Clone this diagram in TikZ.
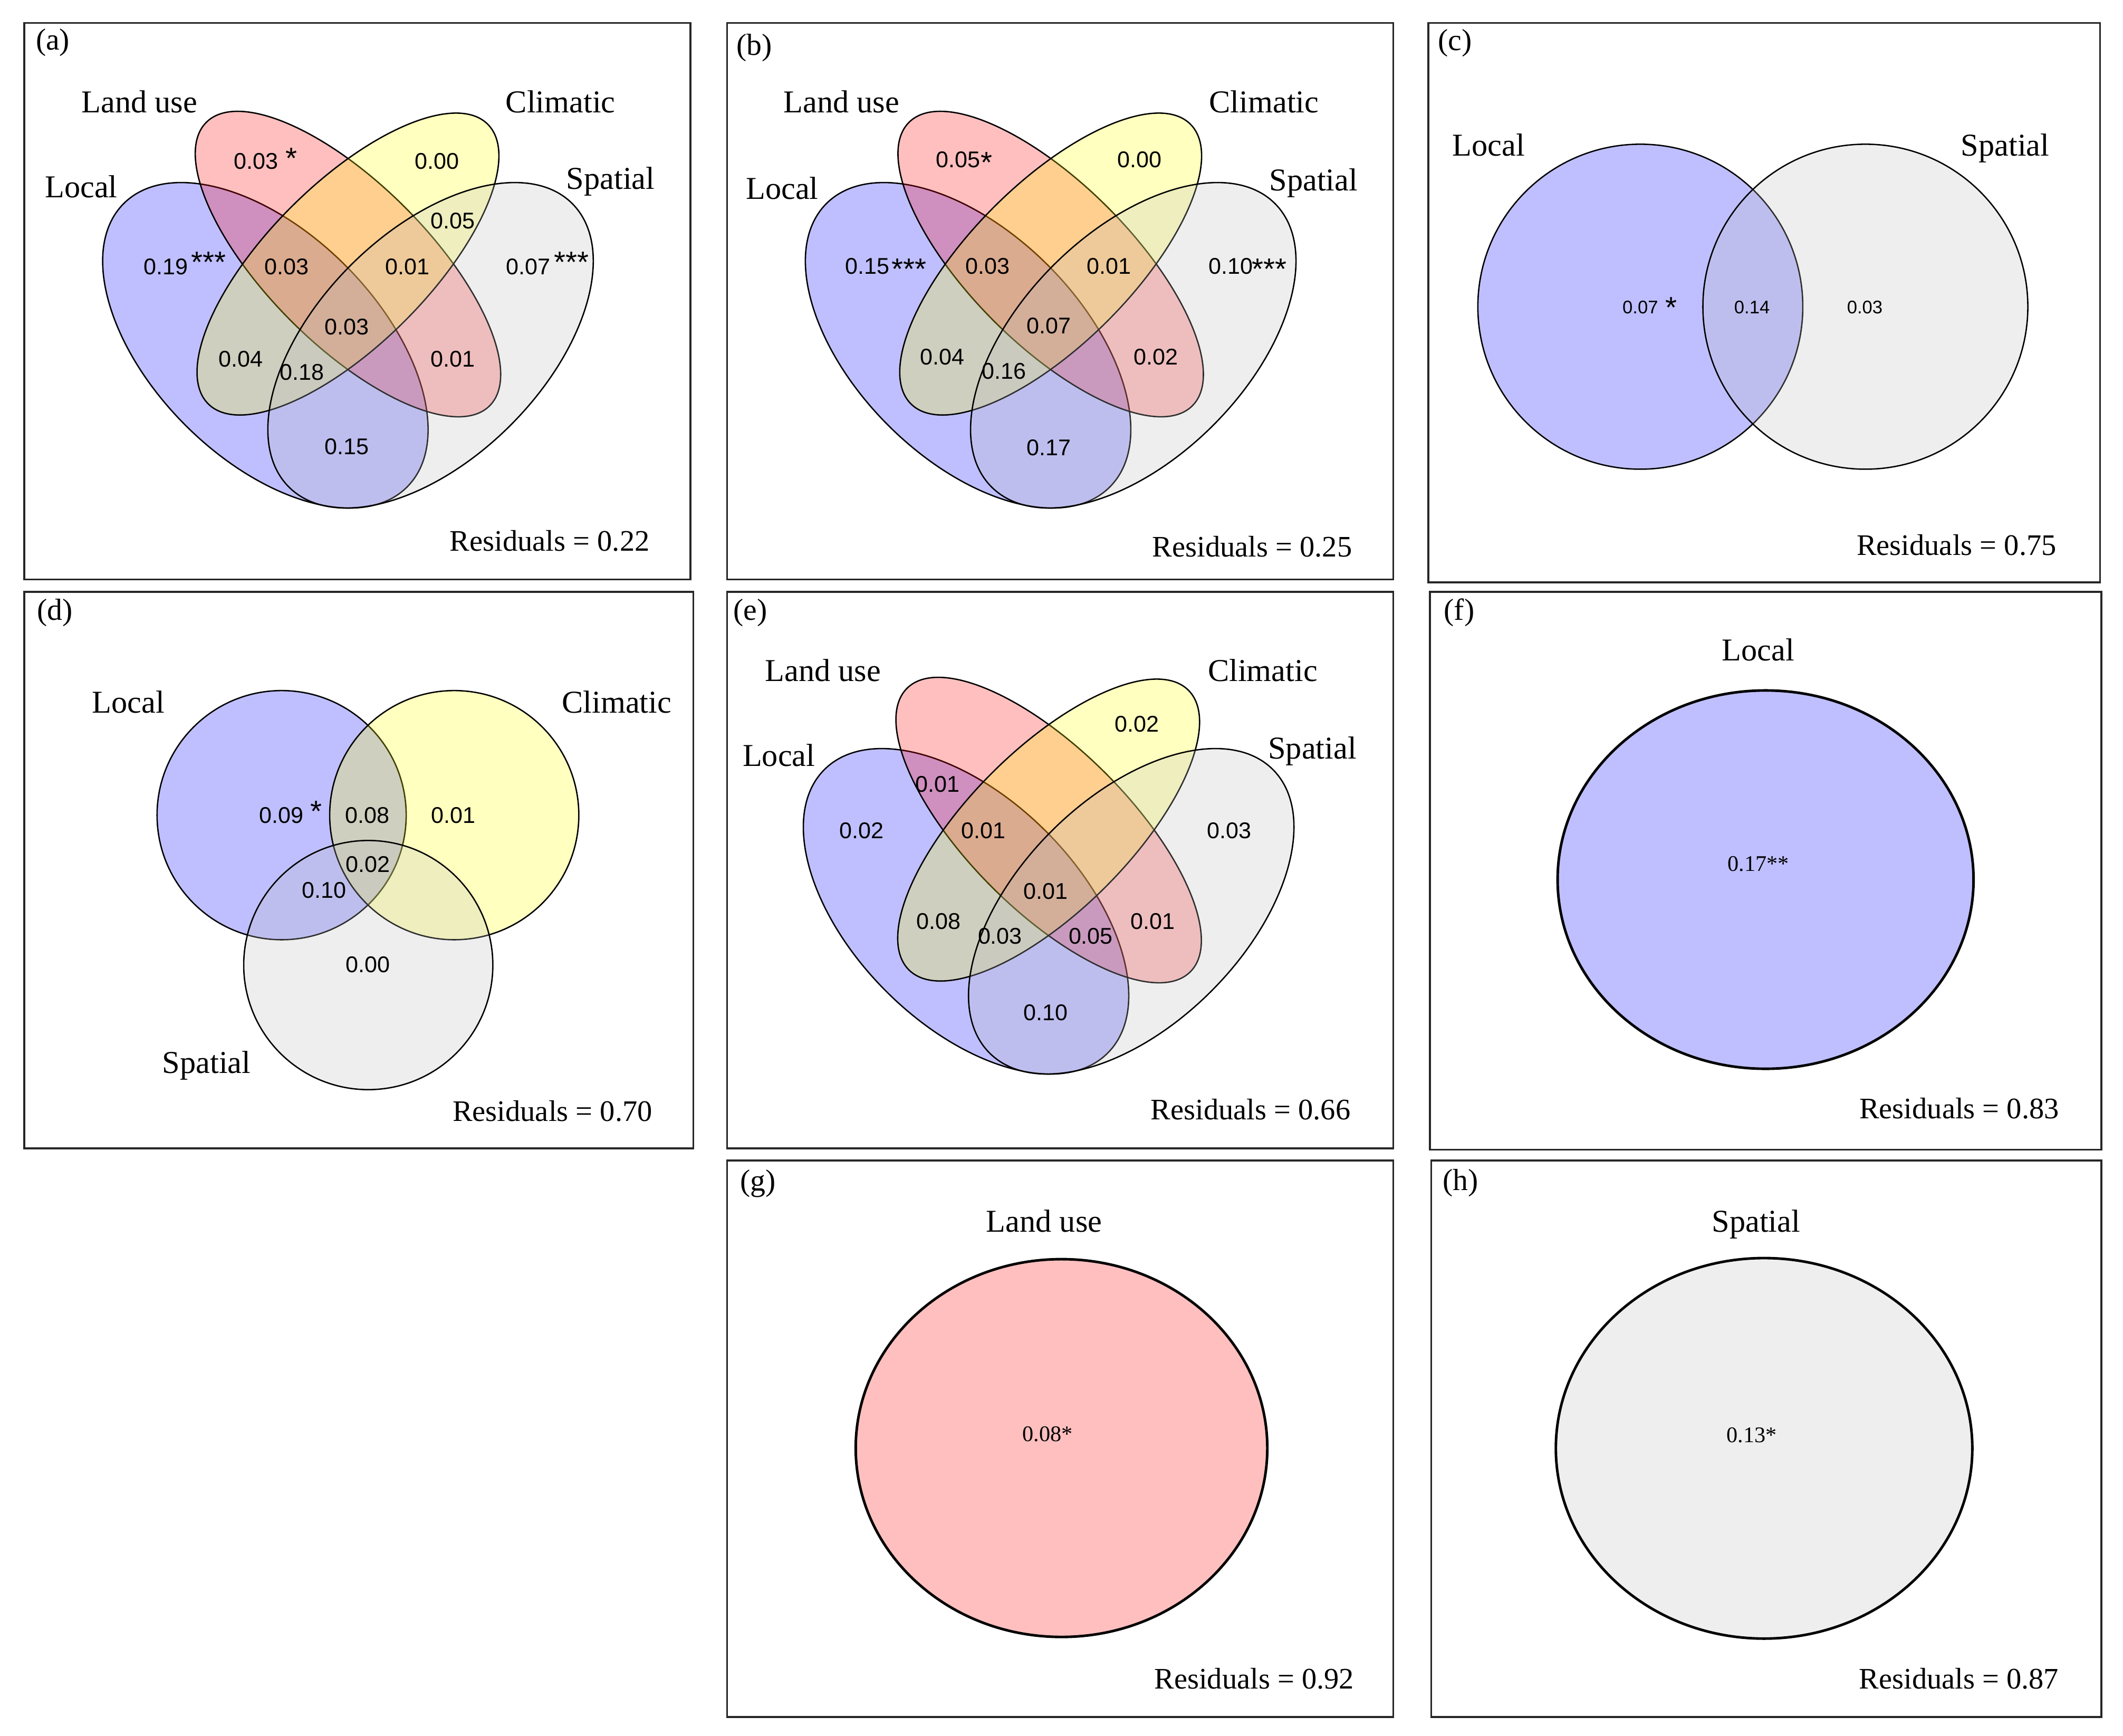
\documentclass[tikz,border=0pt]{standalone}
\usepackage{fontspec}
\setmainfont{Liberation Serif}
\newfontfamily\arialfont{Liberation Sans}
\definecolor{vblue}{RGB}{0,0,255}
\definecolor{vred}{RGB}{255,0,0}
\definecolor{vyellow}{RGB}{255,255,0}
\definecolor{vgrey}{RGB}{190,190,190}
\tikzset{
  panel/.style={draw=black!85, line width=1.4pt},
  lab/.style={font=\fontsize{23.5}{28}\selectfont, anchor=base, inner sep=0pt},
  reslab/.style={font=\fontsize{22}{26}\selectfont, anchor=base, inner sep=0pt},
  tag/.style={font=\fontsize{22.5}{27}\selectfont, inner sep=0pt},
  num/.style={font=\arialfont\fontsize{16.8}{20}\selectfont, inner sep=0pt},
  snum/.style={font=\arialfont\fontsize{13.5}{16}\selectfont, inner sep=0pt},
  stars/.style={font=\arialfont\fontsize{22}{26}\selectfont, inner sep=0pt, anchor=north},
  serifnum/.style={font=\fontsize{16.5}{19}\selectfont, inner sep=0pt},
  vset/.style={fill opacity=0.25, draw=black, line width=1pt},
  setL/.style={vset, fill=vblue},
  setU/.style={vset, fill=vred},
  setC/.style={vset, fill=vyellow},
  setS/.style={vset, fill=vgrey},
  thick set/.style={line width=1.9pt}
}
\newcommand\quadvenn[2]{%
\begin{scope}[shift={(#1,#2)}]
\begin{scope}[shift={(178,238)},rotate=135]\path[setL] (0,0) ellipse [x radius=148,y radius=83.5];\end{scope}
\begin{scope}[shift={(239,178)},rotate=135]\path[setU] (0,0) ellipse [x radius=148,y radius=59.4];\end{scope}
\begin{scope}[shift={(239,178)},rotate=45]\path[setC] (0,0) ellipse [x radius=146,y radius=59.4];\end{scope}
\begin{scope}[shift={(300,238)},rotate=45]\path[setS] (0,0) ellipse [x radius=148,y radius=83.5];\end{scope}
\end{scope}}
\begin{document}
\begin{tikzpicture}[x=1pt,y=-1pt]
\fill[white] (0,0) rectangle (1568,1282);
\useasboundingbox (0,0) rectangle (1568,1282);

% ---------------- panel boxes
\draw[panel] (18,17) rectangle (510,428);
\draw[panel] (537,17) rectangle (1029,428);
\draw[panel] (1055,17) rectangle (1551,430);
\draw[panel] (18,437) rectangle (512,848);
\draw[panel] (537,437) rectangle (1029,848);
\draw[panel] (1056,437) rectangle (1552,849);
\draw[panel] (537,857) rectangle (1029,1268);
\draw[panel] (1057,857) rectangle (1552,1268);

% ---------------- (a)
\quadvenn{18}{17}
\node[tag] (a-tag) at (39,31.5) {(a)};
\node[lab] (a-lu) at (103,83) {Land use};
\node[lab] (a-cl) at (414,83) {Climatic};
\node[lab] (a-lo) at (60,146) {Local};
\node[lab] (a-sp) at (451,139.5) {Spatial};
\node[reslab] (a-res) at (406,407) {Residuals = 0.22};
\node[num] (a-n1) at (189,119) {0.03};
\node[stars] (a-s1) at (215.1,109.1) {*};
\node[num] (a-n2) at (322.7,119) {0.00};
\node[num] (a-n3) at (334.4,163) {0.05};
\node[num] (a-n4) at (122.4,197) {0.19};
\node[stars] (a-s4) at (154.2,185.7) {***};
\node[num] (a-n5) at (211.7,197) {0.03};
\node[num] (a-n6) at (301,197) {0.01};
\node[num] (a-n7) at (390,197) {0.07};
\node[stars] (a-s7) at (422,185.7) {***};
\node[num] (a-n8) at (256,241.5) {0.03};
\node[num] (a-n9) at (178,265) {0.04};
\node[num] (a-n10) at (223,274.7) {0.18};
\node[num] (a-n11) at (334.4,265) {0.01};
\node[num] (a-n12) at (256,330) {0.15};

% ---------------- (b)
\quadvenn{537}{17}
\node[tag] (b-tag) at (557,35.2) {(b)};
\node[lab] (b-lu) at (621.5,83) {Land use};
\node[lab] (b-cl) at (933.6,83) {Climatic};
\node[lab] (b-lo) at (577.7,147) {Local};
\node[lab] (b-sp) at (970.2,140.7) {Spatial};
\node[reslab] (b-res) at (924.8,411) {Residuals = 0.25};
\node[num] (b-n1) at (707.7,117.8) {0.05};
\node[stars] (b-s1) at (728.5,112.3) {*};
\node[num] (b-n2) at (841.5,117.8) {0.00};
\node[num] (b-n3) at (640.5,196.4) {0.15};
\node[stars] (b-s3) at (671.4,190.9) {***};
\node[num] (b-n4) at (729.6,196.4) {0.03};
\node[num] (b-n5) at (819.2,196.4) {0.01};
\node[num] (b-n6) at (909,196.4) {0.10};
\node[stars] (b-s6) at (937.5,190.9) {***};
\node[num] (b-n7) at (774.7,240.8) {0.07};
\node[num] (b-n8) at (695.9,263.5) {0.04};
\node[num] (b-n9) at (741.4,274.2) {0.16};
\node[num] (b-n10) at (853.6,263.5) {0.02};
\node[num] (b-n11) at (774.7,330.5) {0.17};

% ---------------- (c)
\path[setL] (1211.5,226.5) circle [radius=120];
\path[setS] (1377.7,226.5) circle [radius=120];
\node[tag] (c-tag) at (1074.7,31.8) {(c)};
\node[lab] (c-lo) at (1099.4,115.3) {Local};
\node[lab] (c-sp) at (1481,115.3) {Spatial};
\node[reslab] (c-res) at (1445,410) {Residuals = 0.75};
\node[snum] (c-n1) at (1211.5,227.1) {0.07};
\node[stars] (c-s1) at (1234.3,219.4) {*};
\node[snum] (c-n2) at (1294,227.1) {0.14};
\node[snum] (c-n3) at (1377.3,227.1) {0.03};

% ---------------- (d)
\path[setL] (208,602) circle [radius=92];
\path[setC] (335.5,602) circle [radius=92];
\path[setS] (272,712.7) circle [radius=92];
\node[tag] (d-tag) at (40.6,452.5) {(d)};
\node[lab] (d-lo) at (94.8,526.5) {Local};
\node[lab] (d-cl) at (455.5,526.5) {Climatic};
\node[lab] (d-sp) at (152.6,792.5) {Spatial};
\node[reslab] (d-res) at (408,828) {Residuals = 0.70};
\node[num] (d-n1) at (207.8,602) {0.09};
\node[stars] (d-s1) at (233.7,591.5) {*};
\node[num] (d-n2) at (271.4,602) {0.08};
\node[num] (d-n3) at (334.8,602) {0.01};
\node[num] (d-n4) at (271.6,638.5) {0.02};
\node[num] (d-n5) at (239.4,657.5) {0.10};
\node[num] (d-n6) at (271.6,712.5) {0.00};

% ---------------- (e)
\quadvenn{535.5}{435}
\node[tag] (e-tag) at (554.2,452.4) {(e)};
\node[lab] (e-lu) at (607.8,503) {Land use};
\node[lab] (e-cl) at (932.6,503) {Climatic};
\node[lab] (e-lo) at (575.3,566) {Local};
\node[lab] (e-sp) at (969.3,560.3) {Spatial};
\node[reslab] (e-res) at (923.7,827) {Residuals = 0.66};
\node[num] (e-n1) at (839.8,534.8) {0.02};
\node[num] (e-n2) at (692.4,579.3) {0.01};
\node[num] (e-n3) at (636.5,613.6) {0.02};
\node[num] (e-n4) at (726.5,613.6) {0.01};
\node[num] (e-n5) at (907.8,613.6) {0.03};
\node[num] (e-n6) at (772.2,658.4) {0.01};
\node[num] (e-n7) at (693.3,680.6) {0.08};
\node[num] (e-n8) at (738.6,691.4) {0.03};
\node[num] (e-n9) at (805.6,691.4) {0.05};
\node[num] (e-n10) at (851.3,680.6) {0.01};
\node[num] (e-n11) at (772.2,748) {0.10};

% ---------------- (f)
\path[setL, thick set] (1304,649.6) ellipse [x radius=153.6, y radius=139.7];
\node[tag] (f-tag) at (1077.7,452.4) {(f)};
\node[lab] (f-lo) at (1298.6,488) {Local};
\node[serifnum] (f-n1) at (1298.6,638) {0.17**};
\node[reslab] (f-res) at (1447,826) {Residuals = 0.83};

% ---------------- (g)
\path[setU, thick set] (784,1069.4) ellipse [x radius=152, y radius=139.5];
\node[tag] (g-tag) at (559.9,874.1) {(g)};
\node[lab] (g-lu) at (771.2,910) {Land use};
\node[serifnum] (g-n1) at (773.8,1059.2) {0.08*};
\node[reslab] (g-res) at (926.3,1247) {Residuals = 0.92};

% ---------------- (h)
\path[setS, thick set] (1302.9,1069.6) ellipse [x radius=153.8, y radius=140.5];
\node[tag] (h-tag) at (1078.7,873.8) {(h)};
\node[lab] (h-sp) at (1297,910) {Spatial};
\node[serifnum] (h-n1) at (1293.7,1059.8) {0.13*};
\node[reslab] (h-res) at (1446.8,1247) {Residuals = 0.87};
\end{tikzpicture}
\end{document}
